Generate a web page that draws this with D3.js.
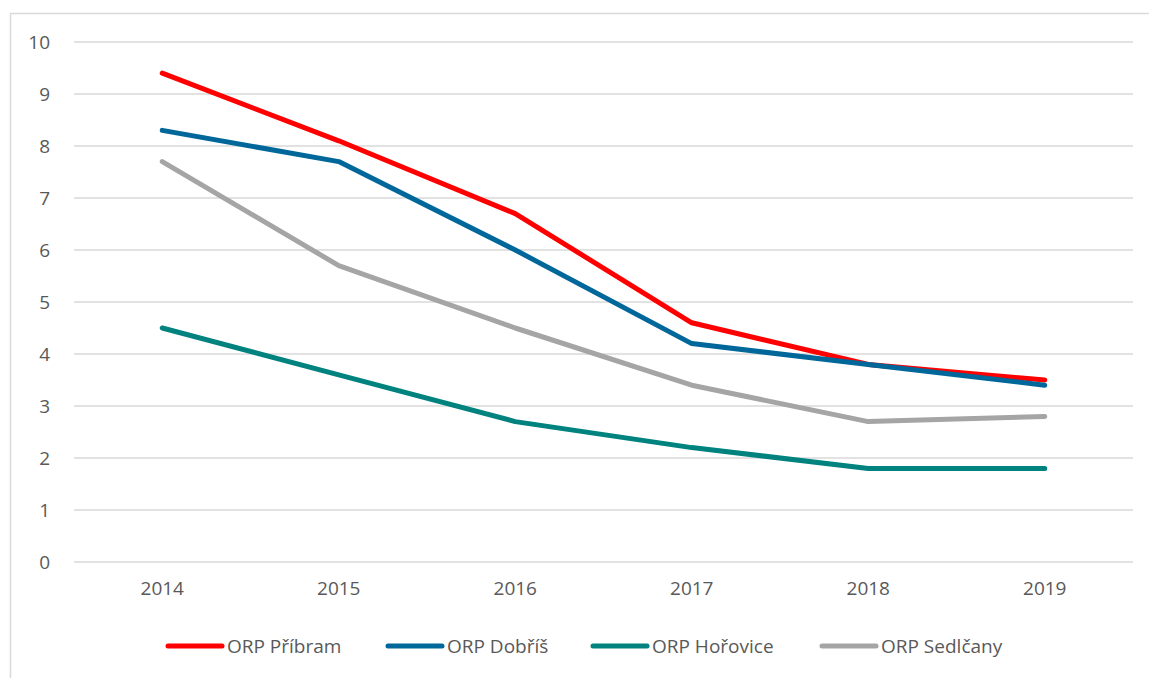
<!DOCTYPE html>
<html>
<head>
<meta charset="utf-8">
<script src="https://cdn.jsdelivr.net/npm/d3@7"></script>
<style>
  body { margin: 0; background: #fff; }
  text { font-family: "Open Sans", "Liberation Sans", sans-serif; fill: #595959; }
</style>
</head>
<body>
<div id="chart"></div>
<script>
const years = ["2014", "2015", "2016", "2017", "2018", "2019"];
const yTicks = [0, 1, 2, 3, 4, 5, 6, 7, 8, 9, 10];
const seriesNames = ["ORP Příbram", "ORP Dobříš", "ORP Hořovice", "ORP Sedlčany"];
const seriesColors = ["#ff0000", "#00679a", "#00827f", "#a5a5a5"];
const pribram = [9.4, 8.1, 6.7, 4.6, 3.8, 3.5];
const dobris = [8.3, 7.7, 6.0, 4.2, 3.8, 3.4];
const horovice = [4.5, 3.6, 2.7, 2.2, 1.8, 1.8];
const sedlcany = [7.7, 5.7, 4.5, 3.4, 2.7, 2.8];

const series = [pribram, dobris, horovice, sedlcany].map((v, i) => ({
    name: seriesNames[i], color: seriesColors[i], values: v
}));

let width = 1149, height = 678;

const svg = d3.select("#chart")
    .append("svg")
    .attr("width", width)
    .attr("height", height);

// chart frame (only top and left edges visible in the picture)
svg.append("path")
    .attr("d", "M10.5," + height + "V13.5H" + width)
    .attr("fill", "none")
    .attr("stroke", "#d9d9d9")
    .attr("stroke-width", 1.5);

const x = d3.scaleBand()
    .domain(years)
    .range([74, 1133]);

const y = d3.scaleLinear()
    .domain([0, 10])
    .range([562, 42]);

// gridlines
svg.append("g")
    .selectAll("line")
    .data(yTicks)
    .enter()
    .append("line")
    .attr("x1", 74)
    .attr("x2", 1133)
    .attr("y1", d => y(d))
    .attr("y2", d => y(d))
    .attr("stroke", "#d9d9d9")
    .attr("stroke-width", 1.5);

const yAxis = d3.axisLeft(y).tickValues(yTicks).tickSize(0).tickPadding(0);
svg.append("g")
    .attr("transform", "translate(50,0)")
    .call(yAxis)
    .call(g => g.select(".domain").remove())
    .selectAll("text")
    .attr("font-size", "19px")
    .attr("font-family", "Open Sans, sans-serif")
    .attr("fill", "#595959");

const xAxis = d3.axisBottom(x).tickSize(0).tickPadding(0);
svg.append("g")
    .attr("transform", "translate(0,581)")
    .call(xAxis)
    .call(g => g.select(".domain").remove())
    .selectAll("text")
    .attr("font-size", "19px")
    .attr("font-family", "Open Sans, sans-serif")
    .attr("fill", "#595959");

const line = d3.line()
    .x((d, i) => x(years[i]) + x.bandwidth() / 2)
    .y(d => y(d));

svg.append("g")
    .selectAll("path")
    .data(series)
    .enter()
    .append("path")
    .attr("d", d => line(d.values))
    .attr("fill", "none")
    .attr("stroke", d => d.color)
    .attr("stroke-width", 5)
    .attr("stroke-linecap", "round")
    .attr("stroke-linejoin", "round");

// legend
const legendX = [168, 388, 593, 822];
const legend = svg.append("g")
    .selectAll("g")
    .data(series)
    .enter()
    .append("g")
    .attr("transform", (d, i) => "translate(" + legendX[i] + ",646)");

legend.append("line")
    .attr("x1", 0)
    .attr("x2", 54)
    .attr("stroke", d => d.color)
    .attr("stroke-width", 5)
    .attr("stroke-linecap", "round");

legend.append("text")
    .attr("x", 59)
    .attr("dy", "0.35em")
    .attr("font-size", "19px")
    .text(d => d.name);
</script>
</body>
</html>
